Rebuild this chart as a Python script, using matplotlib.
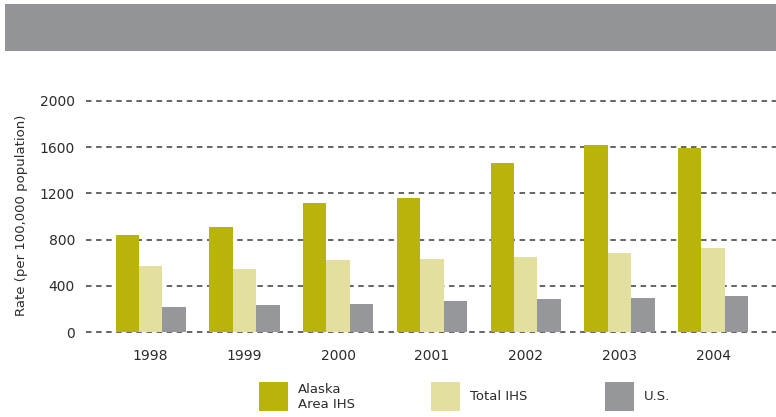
import numpy as np
import matplotlib.pyplot as plt
from matplotlib.patches import Rectangle

# data
years = ["1998", "1999", "2000", "2001", "2002", "2003", "2004"]
alaska_ihs = [840, 909, 1117, 1160, 1463, 1619, 1593]
total_ihs = [571, 545, 623, 632, 649, 684, 727]
us_rate = [216, 234, 242, 268, 286, 294, 312]

series_labels = ["Alaska\nArea IHS", "Total IHS", "U.S."]
series_colors = ["#b8b40c", "#e2df9f", "#96979a"]

W, H = 776, 417
fig = plt.figure(figsize=(W / 100, H / 100), dpi=100)
fig.patch.set_facecolor("white")

# gray header band
fig.add_artist(Rectangle((5 / W, 1 - 51 / H), (W - 5) / W, 47 / H,
                         transform=fig.transFigure, facecolor="#939497",
                         edgecolor="none"))

# axes placement in pixels
left, right, bottom, top = 86, 776, 332, 101
ax = fig.add_axes([left / W, (H - bottom) / H, (right - left) / W, (bottom - top) / H])

x = np.arange(len(years))
width = 0.25
for i, (vals, col) in enumerate(zip([alaska_ihs, total_ihs, us_rate], series_colors)):
    ax.bar(x + (i - 1) * width, vals, width=width, color=col, zorder=3)

ax.set_xlim(-0.69, 6.67)
ax.set_ylim(0, 2000)
ax.set_yticks([0, 400, 800, 1200, 1600, 2000])
ax.set_xticks(x)
ax.set_xticklabels(years)

ax.yaxis.grid(True, color="#3a3a3a", linestyle=(0, (3.6, 3.0)), linewidth=1.1, zorder=0)
for gl in ax.get_ygridlines():
    gl.set_clip_on(False)
ax.set_axisbelow(True)

for s in ax.spines.values():
    s.set_visible(False)
ax.tick_params(axis="both", length=0, labelsize=10, colors="#2b2b2b")
ax.tick_params(axis="y", pad=8)
ax.tick_params(axis="x", pad=12)

fig.text(22 / W, 1 - 215 / H, "Rate (per 100,000 population)", rotation=90,
         ha="center", va="center", fontsize=9.5, color="#2b2b2b")

# legend drawn by hand along the bottom
box_x = [259, 431, 605]
text_x = [298, 470, 644]
for bx, tx, lab, col in zip(box_x, text_x, series_labels, series_colors):
    fig.add_artist(Rectangle((bx / W, 1 - 411 / H), 29 / W, 29 / H,
                             transform=fig.transFigure, facecolor=col,
                             edgecolor="none"))
    fig.text(tx / W, 1 - 397 / H, lab, ha="left", va="center",
             fontsize=9.5, color="#2b2b2b", linespacing=1.2)

fig.savefig("out.png", dpi=100)
